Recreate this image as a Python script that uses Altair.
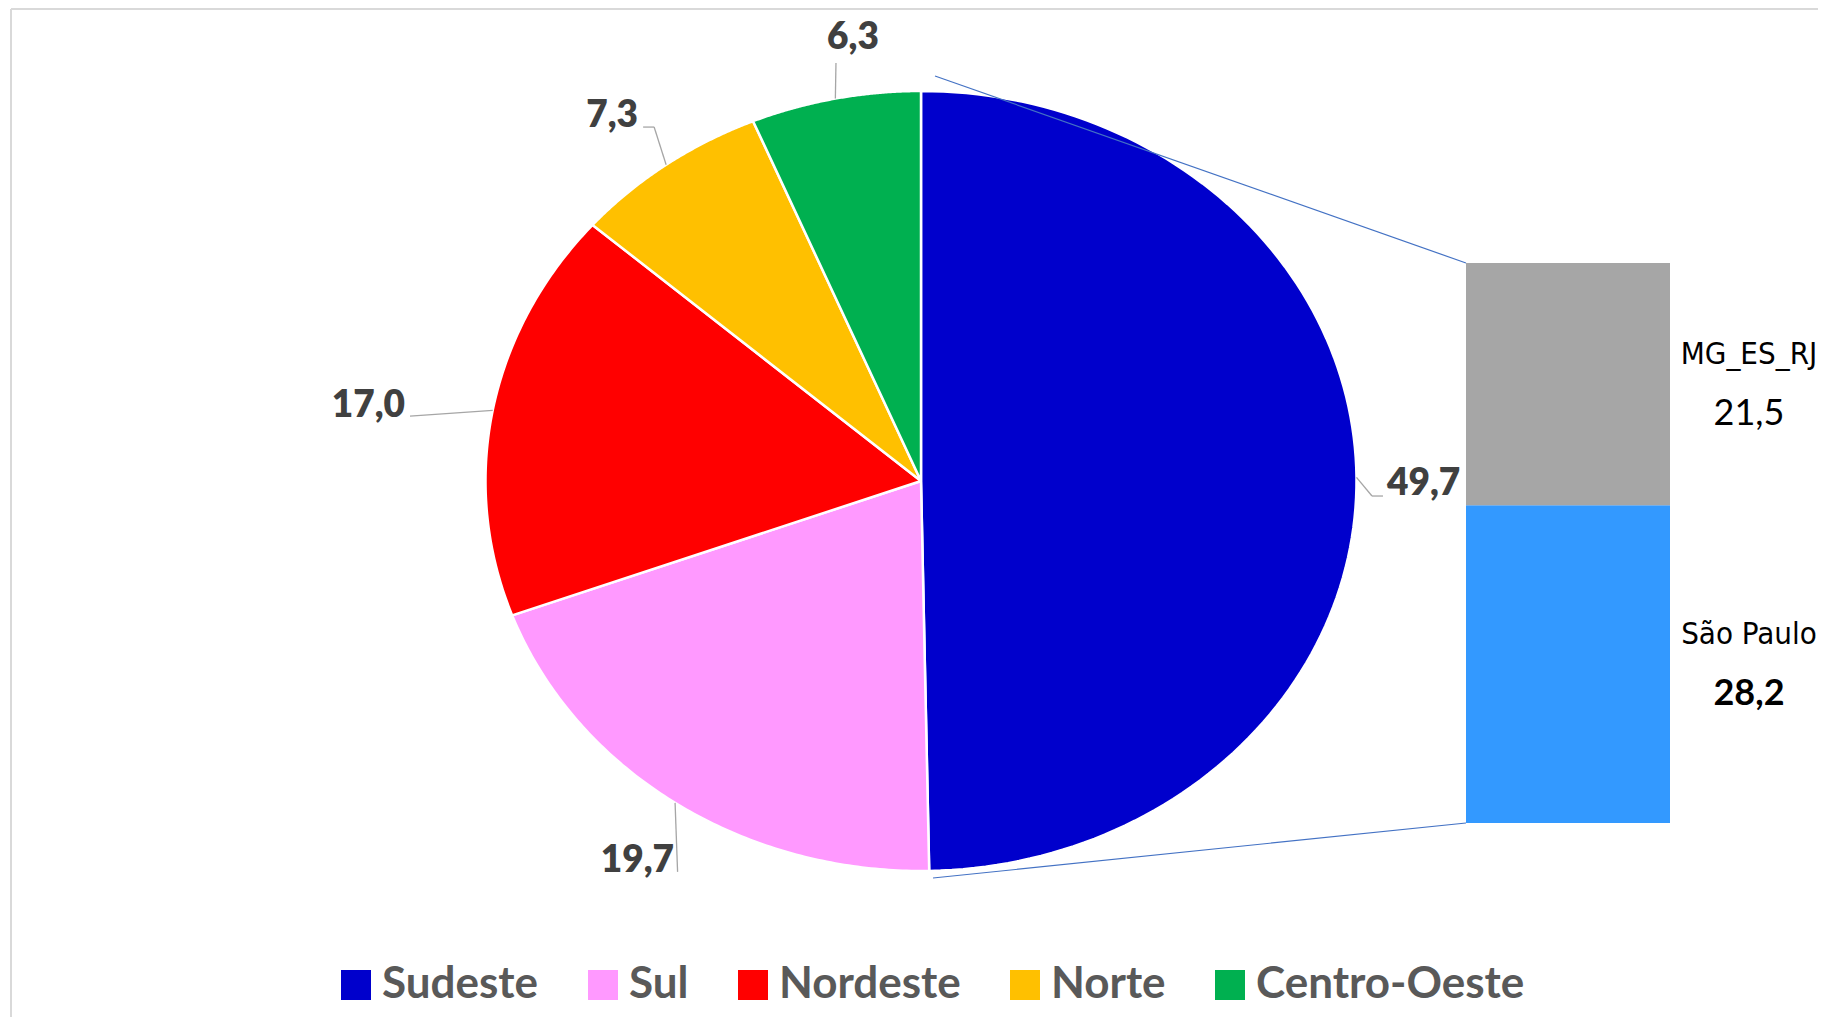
import altair as alt
import pandas as pd

# ---------------- data ----------------
regions = ["Sudeste", "Sul", "Nordeste", "Norte", "Centro-Oeste"]
shares = [49.7, 19.7, 17.0, 7.3, 6.3]
share_labels = ["49,7", "19,7", "17,0", "7,3", "6,3"]

sub_names = ["São Paulo", "MG_ES_RJ"]
sub_shares = [28.2, 21.5]
sub_labels = ["28,2", "21,5"]

# ---------------- style ----------------
region_colors = ["#0000CC", "#FF99FF", "#FF0000", "#FFC000", "#00B050"]
sub_colors = ["#3399FF", "#A6A6A6"]
sub_value_weight = ["bold", "normal"]

# label leader offsets relative to slice edge point (px): elbow, end, text, align
lead_elbow = [(15.5, 18.7), (2.5, 69), (-82.7, 5.7), (-12, -37.7), (0.6, -35.6)]
lead_end = [(26.5, 18.7), (2.5, 69), (-82.7, 5.7), (-23, -37.7), (0.6, -35.6)]
text_off = [(30.5, 17.7), (-1.1, 69), (-87.7, 6.7), (-28.1, -37.7), (17.6, -49.6)]
text_align = ["left", "right", "right", "right", "center"]

# layout (page pixel coordinates)
W, H = 1810, 1009
X0, Y0 = 8, 8
CX, CY, RX, RY = 921, 481, 435.5, 390
BAR_L, BAR_R, BAR_T, BAR_B = 1466, 1670, 263, 823
LBL_X = 1749
N = 120

xs = alt.Scale(domain=[X0, X0 + W], zero=False, nice=False)
ys = alt.Scale(domain=[Y0, Y0 + H], zero=False, nice=False, reverse=True)


def X(f):
    return alt.X(f, scale=xs, axis=None)


def Y(f):
    return alt.Y(f, scale=ys, axis=None)


# ---------------- pie (elliptical, as in the reference) ----------------
pie_df = pd.DataFrame({"region": regions, "share": shares, "k": list(range(len(regions)))})

pie_base = (
    alt.Chart(pie_df)
    .transform_joinaggregate(total="sum(share)")
    .transform_window(cum="sum(share)", sort=[alt.SortField("k")], frame=[None, 0])
    .transform_calculate(
        a0="2*PI*(datum.cum-datum.share)/datum.total",
        a1="2*PI*datum.cum/datum.total",
    )
)

pie = (
    pie_base.transform_calculate(i=f"sequence(0, {N + 3})")
    .transform_flatten(["i"])
    .transform_calculate(
        edge=f"datum.i >= 1 && datum.i <= {N + 1}",
        t=f"datum.a0 + (datum.a1-datum.a0)*(datum.i-1)/{N}",
    )
    .transform_calculate(
        px=f"datum.edge ? {CX} + {RX}*sin(datum.t) : {CX}",
        py=f"datum.edge ? {CY} - {RY}*cos(datum.t) : {CY}",
    )
    .mark_line(filled=True, stroke="white", strokeWidth=2.5, strokeJoin="round")
    .encode(
        x=X("px:Q"),
        y=Y("py:Q"),
        color=alt.Color(
            "region:N",
            scale=alt.Scale(domain=regions, range=region_colors),
            legend=alt.Legend(
                title=None,
                orient="none",
                direction="horizontal",
                legendX=326,
                legendY=955,
                symbolType="square",
                symbolSize=900,
                symbolStrokeWidth=0,
                labelFont="Lato",
                labelFontSize=44,
                labelFontWeight="bold",
                labelColor="#595959",
                labelOffset=4,
                columnPadding=42,
                padding=0,
                labelLimit=0,
            ),
        ),
        detail="region:N",
        order=alt.Order("i:Q"),
    )
)

# ---------------- pie labels with leader lines ----------------
lab_df = pd.DataFrame(
    {
        "region": regions,
        "share": shares,
        "label": share_labels,
        "k": list(range(len(regions))),
        "ex": [e[0] for e in lead_elbow],
        "ey": [e[1] for e in lead_elbow],
        "fx": [e[0] for e in lead_end],
        "fy": [e[1] for e in lead_end],
        "tx": [t[0] for t in text_off],
        "ty": [t[1] for t in text_off],
        "align": text_align,
    }
)

lab_base = (
    alt.Chart(lab_df)
    .transform_joinaggregate(total="sum(share)")
    .transform_window(cum="sum(share)", sort=[alt.SortField("k")], frame=[None, 0])
    .transform_calculate(am="2*PI*(datum.cum-datum.share/2)/datum.total")
    .transform_calculate(
        ax=f"{CX} + {RX}*sin(datum.am)",
        ay=f"{CY} - {RY}*cos(datum.am)",
    )
    .transform_calculate(
        bx="datum.ax + datum.ex",
        by="datum.ay + datum.ey",
        cx="datum.ax + datum.fx",
        cy="datum.ay + datum.fy",
        lx="datum.ax + datum.tx",
        ly="datum.ay + datum.ty",
    )
)

leader1 = lab_base.mark_rule(color="#A6A6A6", strokeWidth=1.3).encode(
    x=X("ax:Q"), y=Y("ay:Q"), x2="bx:Q", y2="by:Q"
)
leader2 = lab_base.mark_rule(color="#A6A6A6", strokeWidth=1.3).encode(
    x=X("bx:Q"), y=Y("by:Q"), x2="cx:Q", y2="cy:Q"
)

pie_texts = []
for al in ["left", "right", "center"]:
    pie_texts.append(
        lab_base.transform_filter(alt.datum.align == al)
        .mark_text(
            align=al,
            baseline="alphabetic",
            font="Lato",
            fontSize=37,
            fontWeight=800,
            color="#404040",
        )
        .encode(x=X("lx:Q"), y=Y("ly:Q"), text="label:N")
    )

# ---------------- connectors from pie to bar ----------------
con_df = pd.DataFrame(
    {
        "x1": [CX + 14, CX + 12],
        "y1": [CY - RY - 15, CY + RY + 7],
        "x2": [BAR_L, BAR_L],
        "y2": [BAR_T, BAR_B],
    }
)
connectors = alt.Chart(con_df).mark_rule(color="#4472C4", strokeWidth=1.2).encode(
    x=X("x1:Q"), y=Y("y1:Q"), x2="x2:Q", y2="y2:Q"
)

# ---------------- secondary stacked bar ----------------
bar_df = pd.DataFrame(
    {
        "name": sub_names,
        "share": sub_shares,
        "label": sub_labels,
        "weight": sub_value_weight,
        "k": list(range(len(sub_names))),
    }
)
bar_base = (
    alt.Chart(bar_df)
    .transform_joinaggregate(total="sum(share)")
    .transform_window(cum="sum(share)", sort=[alt.SortField("k")], frame=[None, 0])
    .transform_calculate(
        y0=f"{BAR_B} - (datum.cum-datum.share)/datum.total*{BAR_B - BAR_T}",
        y1=f"{BAR_B} - datum.cum/datum.total*{BAR_B - BAR_T}",
        bx0=f"{BAR_L}",
        bx1=f"{BAR_R}",
        lx=f"{LBL_X}",
    )
    .transform_calculate(ym="(datum.y0+datum.y1)/2")
)
bar = bar_base.mark_rect().encode(
    x=X("bx0:Q"),
    x2="bx1:Q",
    y=Y("y0:Q"),
    y2="y1:Q",
    color=alt.Color(
        "name:N", scale=alt.Scale(domain=sub_names, range=sub_colors), legend=None
    ),
)
bar_names = bar_base.mark_text(
    align="center",
    baseline="middle",
    font="DejaVu Sans Condensed, Roboto, sans-serif",
    fontSize=31,
    color="#000000",
    dy=-29,
).encode(x=X("lx:Q"), y=Y("ym:Q"), text="name:N")

bar_vals = []
for w in ["bold", "normal"]:
    bar_vals.append(
        bar_base.transform_filter(alt.datum.weight == w)
        .mark_text(
            align="center",
            baseline="middle",
            font="Lato",
            fontSize=36,
            fontWeight=w,
            color="#000000",
            dy=30,
        )
        .encode(x=X("lx:Q"), y=Y("ym:Q"), text="label:N")
    )

# ---------------- chart frame (top and left border) ----------------
frame_top = alt.Chart(pd.DataFrame({"a": [0]})).mark_rule(color="#D9D9D9", strokeWidth=2).encode(
    x=alt.value(3), x2=alt.value(W + 10), y=alt.value(1)
)
frame_left = alt.Chart(pd.DataFrame({"a": [0]})).mark_rule(color="#D9D9D9", strokeWidth=2).encode(
    x=alt.value(3), y=alt.value(1), y2=alt.value(H + 10)
)

chart = (
    alt.layer(
        pie,
        connectors,
        leader1,
        leader2,
        *pie_texts,
        bar,
        bar_names,
        *bar_vals,
        frame_top,
        frame_left,
    )
    .resolve_scale(color="independent")
    .properties(
        width=W,
        height=H,
        padding=0,
        autosize=alt.AutoSizeParams(type="none"),
        background="white",
    )
    .configure_view(stroke=None)
)

chart.save("out.html", embed_options={"renderer": "svg", "actions": False})
